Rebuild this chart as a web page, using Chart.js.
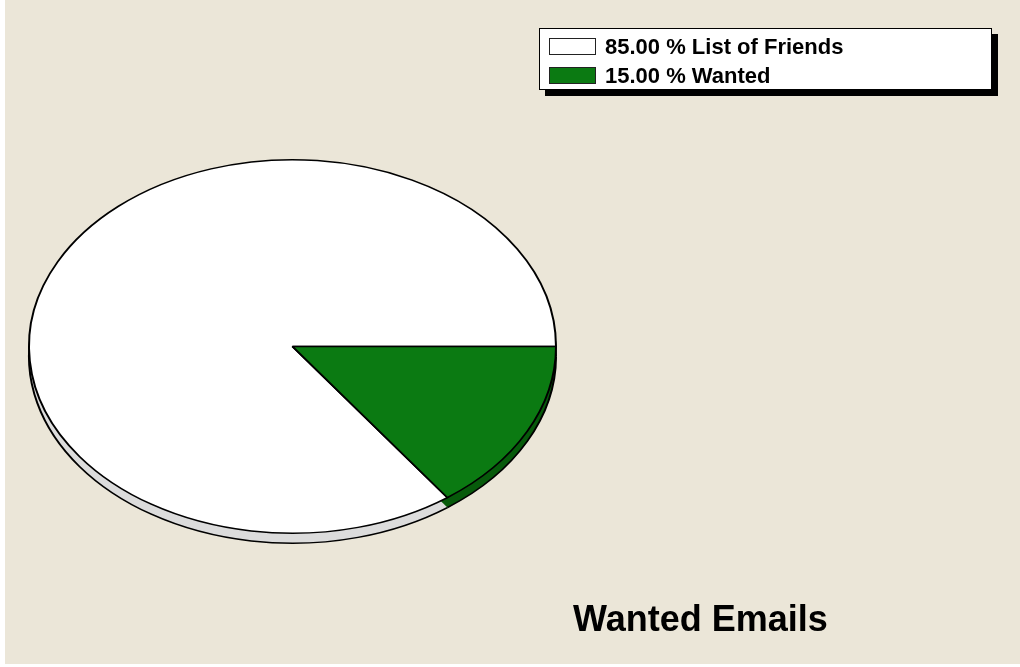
<!DOCTYPE html>
<html>
<head>
<meta charset="utf-8">
<title>Wanted Emails</title>
<script src="https://cdn.jsdelivr.net/npm/chart.js@4/dist/chart.umd.min.js"></script>
<style>
  html, body { margin: 0; padding: 0; background: #fff; overflow: hidden; }
  #stage {
    position: absolute; left: 5px; top: 0; width: 1015px; height: 664px;
    background: #ebe6d8;
  }
  #pieCanvas { position: absolute; left: 0; top: 0; }
  #legend {
    position: absolute; left: 539px; top: 28px; width: 451px; height: 60px;
    background: #fff; border: 1px solid #000;
    box-shadow: 6px 6px 0 #000;
    font: bold 22px "Liberation Sans", Arial, sans-serif; color: #000;
  }
  .item { position: absolute; left: 9px; height: 22px; line-height: 22px; white-space: nowrap; }
  .swatch {
    position: absolute; left: 0; top: 2px; width: 45px; height: 15px;
    border: 1px solid #222;
  }
  .item span.txt { position: absolute; left: 56px; top: 0; }
  #title {
    position: absolute; left: 573px; top: 601px;
    font: bold 36px "Liberation Sans", Arial, sans-serif; line-height: 36px; color: #000;
  }
</style>
</head>
<body>
<div id="stage"></div>
<canvas id="pieCanvas" width="1020" height="667"></canvas>
<div id="legend"></div>
<div id="title">Wanted Emails</div>
<script>
// Данни от картинката
const labels = ['List of Friends', 'Wanted'];
const values = [85, 15];
const topColors = ['#ffffff', '#0b7a12'];
const sideColors = ['#dcdcdc', '#075a0b'];

const SQUASH = 187.5 / 264.5; // наклон на пая
const DEPTH = 10;             // дебелина на страната

// Наклонен пай с малко дебелина
const tiltPlugin = {
    id: 'tilt',
    beforeDatasetsDraw(chart) {
        const ctx = chart.ctx;
        const arcs = chart.getDatasetMeta(0).data;
        const cx = arcs[0].x, cy = arcs[0].y;
        ctx.save();
        ctx.translate(cx, cy);
        ctx.scale(1, SQUASH);
        ctx.translate(-cx, -cy);

        const dy = DEPTH / SQUASH;
        arcs.forEach((arc, i) => {
            const p = arc.getProps(['x', 'y', 'startAngle', 'endAngle', 'outerRadius'], true);
            ctx.beginPath();
            ctx.moveTo(p.x, p.y + dy);
            ctx.arc(p.x, p.y + dy, p.outerRadius, p.startAngle, p.endAngle);
            ctx.closePath();
            ctx.fillStyle = sideColors[i];
            ctx.fill();
            ctx.beginPath();
            ctx.arc(p.x, p.y + dy, p.outerRadius, p.startAngle, p.endAngle);
            ctx.lineWidth = 2;
            ctx.strokeStyle = '#000';
            ctx.stroke();
        });
    },
    afterDatasetsDraw(chart) {
        chart.ctx.restore();
    }
};

function buildLegend() {
    const box = document.getElementById('legend');
    labels.forEach((lab, i) => {
        const item = document.createElement('div');
        item.className = 'item';
        item.style.top = (i === 0 ? 7 : 36) + 'px';
        item.innerHTML = '<div class="swatch" style="background:' + topColors[i] + '"></div>' +
            '<span class="txt">' + values[i].toFixed(2) + ' % ' + lab + '</span>';
        box.appendChild(item);
    });
}

function loadPie() {
    const ctx = document.getElementById('pieCanvas').getContext('2d');
    new Chart(ctx, {
        type: 'pie',
        data: {
            labels: labels,
            datasets: [{
                data: values,
                backgroundColor: topColors,
                borderColor: '#000',
                borderWidth: 2
            }]
        },
        options: {
            responsive: false,
            animation: false,
            events: [],
            rotation: 144, // зеленото започва от 3 часа
            layout: { padding: { left: 28, right: 463, top: 82, bottom: 56 } },
            plugins: {
                legend: { display: false },
                title: { display: false },
                tooltip: { enabled: false }
            }
        },
        plugins: [tiltPlugin]
    });
}

buildLegend();
loadPie();
</script>
</body>
</html>
